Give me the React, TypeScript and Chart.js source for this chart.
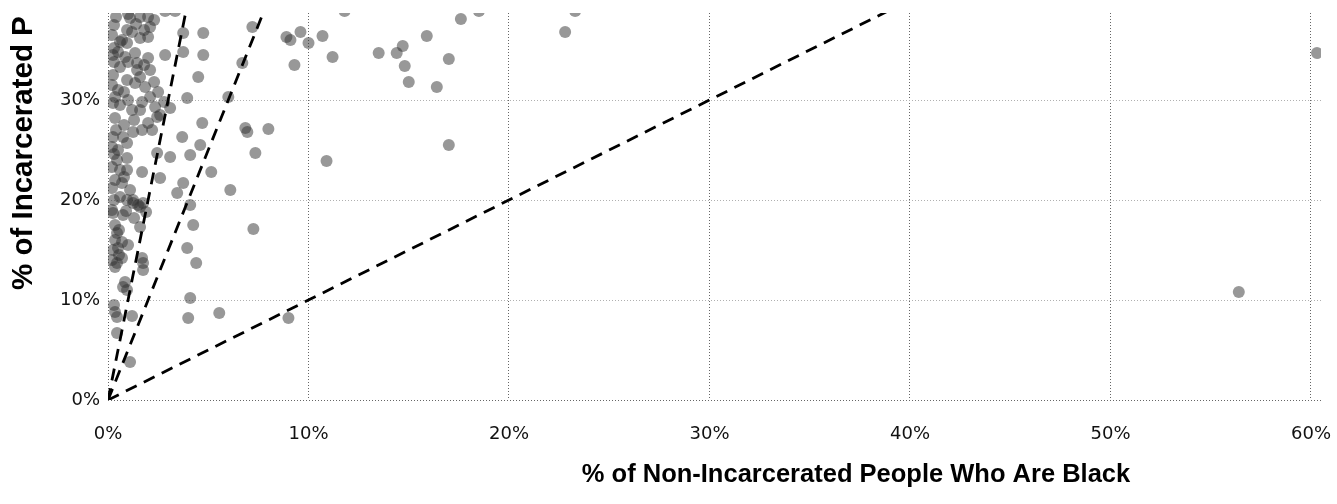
import React, { useEffect, useRef } from "react";
import { Chart, registerables } from "chart.js";

Chart.register(...registerables);

// % of non-incarcerated people who are Black (x), per county
const nonIncarceratedBlackPct: number[] = [
  60.3, 56.4, 22.8, 23.3, 17.6, 18.5, 17.0, 17.0, 16.4, 15.9, 15.0, 14.8, 14.7, 14.4, 13.5, 11.8, 11.2, 10.9,
  10.7, 10.0, 9.6, 9.3, 8.9, 9.1, 9.0, 7.2, 6.7, 6.0, 7.25, 7.35, 6.85, 6.95, 8.0, 6.1, 5.15, 5.55,
  0.4, 1.1, 1.6, 2.0, 2.1, 2.0, 1.6, 1.2, 0.95, 0.95, 0.5, 0.25, 0.85, 1.35, 1.45, 2.0, 2.1, 1.45, 0.6, 0.25,
  0.2, 0.35, 0.6, 1.2, 1.7, 2.1, 2.35, 2.6, 1.85, 1.35, 0.95, 1.6, 0.25, 1.6, 2.45, 2.0, 1.25, 0.75, 0.25, 0.2,
  0.5, 0.95, 0.45, 0.95, 0.2, 0.6, 0.95, 0.35, 0.2, 0.7, 0.6, 0.95, 1.25, 1.6, 0.25, 0.75, 0.2, 0.35, 0.45, 0.35,
  0.7, 0.5, 0.2, 0.45, 0.7, 0.35, 0.85, 0.75, 0.95, 0.35, 0.45, 1.2, 0.45, 1.1, 1.5, 1.6, 1.7, 1.75, 1.75, 1.25,
  1.75, 1.7, 2.45, 3.1, 2.6, 3.7, 4.1, 4.6, 4.7, 3.45, 3.75, 2.85, 3.75, 3.75, 4.75, 4.75, 4.5, 3.95, 3.1, 2.85,
  3.35, 4.25, 3.95, 4.4, 4.1, 4.0, 4.1,
  0.3, 0.7, 1.4, 1.8, 2.3, 1.0, 0.2, 0.3, 0.5, 0.8, 1.0, 1.8, 2.3, 2.5, 0.3, 0.6, 1.0,
  0.35, 0.8, 1.3, 1.7, 2.2, 2.8, 0.4, 0.3, 0.8, 1.1, 0.3, 0.9, 1.3, 0.55, 0.25, 0.55, 1.0, 1.9, 0.3,
];

// % of incarcerated people who are Black (y), same counties
const incarceratedBlackPct: number[] = [
  34.7, 10.8, 36.8, 38.9, 38.1, 38.9, 25.5, 34.1, 31.3, 36.4, 31.8, 33.4, 35.4, 34.7, 34.7, 38.9, 34.3, 23.9,
  36.4, 35.7, 36.8, 33.5, 36.3, 36.0, 8.2, 37.3, 33.7, 30.3, 17.1, 24.7, 27.2, 26.8, 27.1, 21.0, 22.8, 8.7,
  38.3, 38.2, 38.3, 38.3, 37.3, 36.3, 36.2, 36.8, 37.0, 35.7, 34.8, 34.5, 34.3, 34.7, 33.7, 34.2, 33.0, 33.0, 33.3, 32.5,
  31.5, 30.3, 29.5, 29.0, 29.8, 30.3, 29.3, 28.5, 31.3, 31.7, 32.0, 32.3, 29.7, 29.0, 28.3, 27.7, 26.8, 26.3, 26.3, 25.3,
  25.0, 25.7, 24.0, 24.2, 23.3, 23.0, 23.0, 22.0, 21.2, 21.7, 20.3, 20.0, 19.7, 19.3, 18.7, 18.5, 19.0, 17.5, 16.7, 16.0,
  15.8, 15.2, 14.0, 13.7, 14.2, 13.3, 11.8, 11.3, 11.0, 8.8, 8.3, 8.4, 6.7, 3.8, 19.5, 17.3, 14.2, 13.7, 13.0, 20.0,
  19.7, 22.8, 24.7, 24.3, 22.2, 26.3, 24.5, 25.5, 27.7, 20.7, 21.7, 34.5, 36.7, 34.8, 36.7, 34.5, 32.3, 30.2, 29.2, 38.9,
  38.9, 17.5, 15.2, 13.7, 10.2, 8.2, 19.5,
  37.5, 36.0, 37.6, 37.0, 38.0, 38.6, 36.5, 33.8, 31.0, 30.8, 33.8, 33.5, 31.8, 30.8, 35.2, 35.8, 30.0,
  28.2, 27.5, 28.0, 27.0, 27.0, 29.8, 27.0, 24.6, 22.3, 21.0, 20.0, 18.9, 18.2, 17.0, 15.0, 14.5, 15.5, 18.8, 9.5,
];

// reference lines: incarcerated share = ratio × non-incarcerated share
const ratioLines: number[] = [1, 5, 10];

const xTickStep = 10;
const yTickStep = 10;
const xMax = 60.5;
const yMax = 38.7;

const xTitle = "% of Non-Incarcerated People Who Are Black";
const yTitle = "% of Incarcerated People Who Are Black";

function zeroPadding(scale: any) {
  scale.paddingTop = 0;
  scale.paddingBottom = 0;
  scale.paddingLeft = 0;
  scale.paddingRight = 0;
}

export default function App() {
  const canvasRef = useRef<HTMLCanvasElement | null>(null);

  useEffect(() => {
    const canvas = canvasRef.current;
    if (!canvas) return;

    const points = nonIncarceratedBlackPct.map((x, i) => ({ x, y: incarceratedBlackPct[i] }));
    const lineTop = 45;
    const lineSets = ratioLines.map((r) => ({
      type: "line" as const,
      data: [
        { x: 0, y: 0 },
        { x: lineTop / r, y: lineTop },
      ],
      borderColor: "#000",
      borderWidth: 2.8,
      borderDash: [12, 8],
      pointRadius: 0,
      fill: false,
      clip: 0,
      order: 0,
    }));

    const titlePlugin = {
      id: "axisTitles",
      afterDraw(chart: any) {
        const ctx = chart.ctx as CanvasRenderingContext2D;
        ctx.save();
        ctx.fillStyle = "#000";
        ctx.font = "bold 25.5px 'Liberation Sans', Arial, sans-serif";
        ctx.textAlign = "center";
        ctx.textBaseline = "alphabetic";
        ctx.fillText(xTitle, 856, 482);
        ctx.restore();

        ctx.save();
        ctx.beginPath();
        ctx.rect(0, 17, 70, 487);
        ctx.clip();
        ctx.translate(32, 290);
        ctx.rotate(-Math.PI / 2);
        ctx.fillStyle = "#000";
        ctx.font = "bold 29.5px 'Liberation Sans', Arial, sans-serif";
        ctx.textAlign = "left";
        ctx.textBaseline = "alphabetic";
        ctx.fillText(yTitle, 0, 0);
        ctx.restore();
      },
    };

    const chart = new Chart(canvas, {
      type: "scatter",
      data: {
        datasets: [
          {
            type: "scatter",
            data: points,
            backgroundColor: "rgba(50,50,50,0.5)",
            borderWidth: 0,
            pointRadius: 6,
            pointHoverRadius: 6,
            clip: 0,
            order: 1,
          } as any,
          ...(lineSets as any[]),
        ],
      },
      options: {
        responsive: false,
        animation: false,
        devicePixelRatio: 1,
        layout: { padding: { left: 0, right: 16, top: 13, bottom: 0 } },
        plugins: {
          legend: { display: false },
          tooltip: { enabled: false },
        },
        scales: {
          x: {
            type: "linear",
            min: 0,
            max: xMax,
            afterFit: (scale: any) => {
              scale.height = 104;
              zeroPadding(scale);
            },
            border: { display: false, dash: [1, 2] },
            grid: {
              drawTicks: false,
              lineWidth: 1,
              color: "#666",
            },
            ticks: {
              stepSize: xTickStep,
              includeBounds: false,
              padding: 24,
              color: "#111",
              font: { family: "'DejaVu Sans', Verdana, sans-serif", size: 18 },
              maxRotation: 0,
              callback: (v: any) => `${v}%`,
            },
          },
          y: {
            type: "linear",
            min: 0,
            max: yMax,
            afterFit: (scale: any) => {
              scale.width = 108;
              zeroPadding(scale);
            },
            border: { display: false, dash: [1, 2] },
            grid: {
              drawTicks: false,
              lineWidth: 1,
              color: (c: any) => (c.tick && c.tick.value === 0 ? "#666" : "#b0b0b0"),
            },
            ticks: {
              stepSize: yTickStep,
              includeBounds: false,
              padding: 8,
              color: "#111",
              font: { family: "'DejaVu Sans', Verdana, sans-serif", size: 18 },
              callback: (v: any) => `${v}%`,
            },
          },
        },
      } as any,
      plugins: [titlePlugin],
    });

    return () => chart.destroy();
  }, []);

  return (
    <div style={{ position: "absolute", left: 0, top: 0, width: 1337, height: 504, background: "#fff" }}>
      <canvas ref={canvasRef} width={1337} height={504} style={{ display: "block" }} />
    </div>
  );
}
